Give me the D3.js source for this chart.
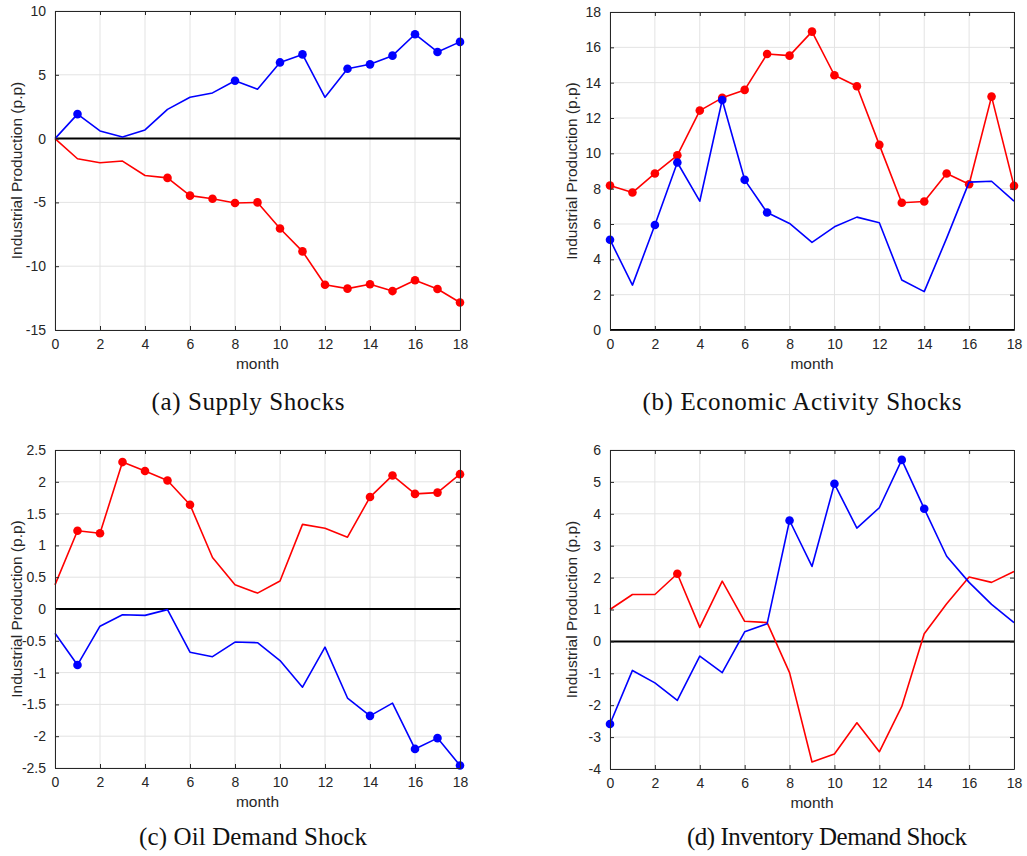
<!DOCTYPE html>
<html>
<head>
<meta charset="utf-8">
<script src="https://cdn.jsdelivr.net/npm/d3@7"></script>
<style>
  html, body { margin: 0; padding: 0; background: #ffffff; }
  svg { display: block; }
</style>
</head>
<body>
<svg id="chart" width="1027" height="856"></svg>
<script>
// Months on the horizontal axis
const months = d3.range(0, 19);

// (a) Supply Shocks
const supplyBlue = [0, 1.92, 0.6, 0.13, 0.68, 2.29, 3.24, 3.58, 4.53, 3.87, 5.97, 6.6, 3.24, 5.47, 5.82, 6.5, 8.18, 6.79, 7.58];
const supplyRed = [0, -1.58, -1.89, -1.76, -2.89, -3.08, -4.47, -4.71, -5.05, -5.0, -7.05, -8.84, -11.45, -11.76, -11.42, -11.95, -11.1, -11.79, -12.84];
const supplyBlueMarks = [1, 8, 10, 11, 13, 14, 15, 16, 17, 18];
const supplyRedMarks = [5, 6, 7, 8, 9, 10, 11, 12, 13, 14, 15, 16, 17, 18];
const supplyTicks = [-15, -10, -5, 0, 5, 10];

// (b) Economic Activity Shocks
const activityRed = [8.18, 7.78, 8.86, 9.89, 12.42, 13.14, 13.59, 15.62, 15.53, 16.89, 14.42, 13.8, 10.48, 7.2, 7.27, 8.86, 8.25, 13.21, 8.16];
const activityBlue = [5.11, 2.54, 5.94, 9.48, 7.29, 13.02, 8.5, 6.65, 6.03, 4.96, 5.84, 6.39, 6.07, 2.83, 2.17, 5.2, 8.37, 8.42, 7.29];
const activityRedMarks = d3.range(0, 19);
const activityBlueMarks = [0, 2, 3, 5, 6, 7];
const activityTicks = [0, 2, 4, 6, 8, 10, 12, 14, 16, 18];

// (c) Oil Demand Shock
const oilRed = [0.38, 1.23, 1.19, 2.31, 2.17, 2.02, 1.64, 0.81, 0.38, 0.25, 0.44, 1.33, 1.27, 1.13, 1.76, 2.10, 1.81, 1.83, 2.12];
const oilBlue = [-0.38, -0.88, -0.27, -0.09, -0.10, -0.01, -0.68, -0.75, -0.52, -0.53, -0.81, -1.23, -0.60, -1.40, -1.68, -1.48, -2.20, -2.03, -2.46];
const oilRedMarks = [1, 2, 3, 4, 5, 6, 14, 15, 16, 17, 18];
const oilBlueMarks = [1, 14, 16, 17, 18];
const oilTicks = [-2.5, -2, -1.5, -1, -0.5, 0, 0.5, 1, 1.5, 2, 2.5];

// (d) Inventory Demand Shock
const inventoryRed = [1.0, 1.47, 1.47, 2.12, 0.44, 1.89, 0.63, 0.59, -0.98, -3.78, -3.53, -2.55, -3.46, -2.04, 0.24, 1.18, 2.02, 1.85, 2.19];
const inventoryBlue = [-2.59, -0.91, -1.30, -1.85, -0.46, -0.98, 0.30, 0.55, 3.79, 2.35, 4.94, 3.55, 4.19, 5.69, 4.16, 2.67, 1.85, 1.16, 0.59];
const inventoryRedMarks = [3];
const inventoryBlueMarks = [0, 8, 10, 13, 14];
const inventoryTicks = [-4, -3, -2, -1, 0, 1, 2, 3, 4, 5, 6];

const monthTicks = [0, 2, 4, 6, 8, 10, 12, 14, 16, 18];
const yLabel = "Industrial Production (p.p)";
const xLabel = "month";

const panels = [
  { caption: "(a) Supply Shocks", box: [55, 460, 11, 330], capX: 248, capY: 410, capW: 193,
    yTicks: supplyTicks,
    series: [
      { values: supplyBlue, marks: supplyBlueMarks, color: "#0000ff" },
      { values: supplyRed, marks: supplyRedMarks, color: "#ff0000" }
    ] },
  { caption: "(b) Economic Activity Shocks", box: [610, 1014, 12, 330], capX: 802, capY: 410, capW: 319,
    yTicks: activityTicks,
    series: [
      { values: activityRed, marks: activityRedMarks, color: "#ff0000" },
      { values: activityBlue, marks: activityBlueMarks, color: "#0000ff" }
    ] },
  { caption: "(c) Oil Demand Shock", box: [55, 460, 450, 768], capX: 253, capY: 845, capW: 228,
    yTicks: oilTicks,
    series: [
      { values: oilRed, marks: oilRedMarks, color: "#ff0000" },
      { values: oilBlue, marks: oilBlueMarks, color: "#0000ff" }
    ] },
  { caption: "(d) Inventory Demand Shock", box: [610, 1014, 450, 769], capX: 827, capY: 845, capW: 280,
    yTicks: inventoryTicks,
    series: [
      { values: inventoryRed, marks: inventoryRedMarks, color: "#ff0000" },
      { values: inventoryBlue, marks: inventoryBlueMarks, color: "#0000ff" }
    ] }
];

const svg = d3.select("#chart");
const axisColor = "#262626";
const gridColor = "#e3e3e3";
const tickFont = "'Liberation Sans', Arial, Helvetica, sans-serif";
const fmt = v => String(v);

panels.forEach(p => {
  const [x0, x1, y0, y1] = p.box;
  const ticks = p.yTicks;
  const x = d3.scaleLinear().domain([0, 18]).range([x0, x1]);
  const y = d3.scaleLinear().domain([ticks[0], ticks[ticks.length - 1]]).range([y1, y0]);
  const g = svg.append("g");

  // grid
  g.append("g").selectAll("line").data(monthTicks).join("line")
    .attr("x1", d => x(d)).attr("x2", d => x(d)).attr("y1", y0).attr("y2", y1)
    .attr("stroke", gridColor).attr("stroke-width", 1);
  g.append("g").selectAll("line").data(ticks).join("line")
    .attr("x1", x0).attr("x2", x1).attr("y1", d => y(d)).attr("y2", d => y(d))
    .attr("stroke", gridColor).attr("stroke-width", 1);

  // zero reference line
  g.append("line")
    .attr("x1", x0).attr("x2", x1).attr("y1", y(0)).attr("y2", y(0))
    .attr("stroke", "#000000").attr("stroke-width", 2);

  // series
  p.series.forEach(s => {
    const line = d3.line().x((d, i) => x(months[i])).y(d => y(d));
    g.append("path").datum(s.values)
      .attr("d", line).attr("fill", "none")
      .attr("stroke", s.color).attr("stroke-width", 1.6)
      .attr("stroke-linejoin", "round");
    g.append("g").selectAll("circle").data(s.marks).join("circle")
      .attr("cx", i => x(months[i])).attr("cy", i => y(s.values[i]))
      .attr("r", 4.3).attr("fill", s.color);
  });

  // axes: inward ticks on all four sides
  const bottom = d3.axisBottom(x).tickValues(monthTicks).tickFormat(fmt).tickSizeInner(-4).tickSizeOuter(0).tickPadding(9);
  const top = d3.axisTop(x).tickValues(monthTicks).tickFormat("").tickSizeInner(-4).tickSizeOuter(0);
  const left = d3.axisLeft(y).tickValues(ticks).tickFormat(fmt).tickSizeInner(-4).tickSizeOuter(0).tickPadding(9);
  const right = d3.axisRight(y).tickValues(ticks).tickFormat("").tickSizeInner(-4).tickSizeOuter(0);

  const styleAxis = sel => {
    sel.select(".domain").attr("stroke", axisColor).attr("stroke-width", 1);
    sel.selectAll(".tick line").attr("stroke", axisColor).attr("stroke-width", 1);
    sel.selectAll(".tick text").attr("fill", axisColor)
      .style("font-family", tickFont).style("font-size", "14px");
  };
  g.append("g").attr("transform", `translate(0,${y1})`).call(bottom).call(styleAxis);
  g.append("g").attr("transform", `translate(0,${y0})`).call(top).call(styleAxis);
  g.append("g").attr("transform", `translate(${x0},0)`).call(left).call(styleAxis);
  g.append("g").attr("transform", `translate(${x1},0)`).call(right).call(styleAxis);

  // axis labels
  g.append("text")
    .attr("x", (x0 + x1) / 2).attr("y", y1 + 39)
    .attr("text-anchor", "middle").attr("fill", axisColor)
    .style("font-family", tickFont).style("font-size", "15.5px")
    .text(xLabel);
  g.append("text")
    .attr("transform", `translate(${x0 - 33},${(y0 + y1) / 2}) rotate(-90)`)
    .attr("text-anchor", "middle").attr("fill", axisColor)
    .style("font-family", tickFont).style("font-size", "15.5px")
    .text(yLabel);

  // caption
  svg.append("text")
    .attr("x", p.capX).attr("y", p.capY)
    .attr("text-anchor", "middle").attr("fill", "#111111")
    .attr("textLength", p.capW).attr("lengthAdjust", "spacing")
    .style("font-family", "'Liberation Serif', 'Times New Roman', serif")
    .style("font-size", "25px")
    .text(p.caption);
});
</script>
</body>
</html>
